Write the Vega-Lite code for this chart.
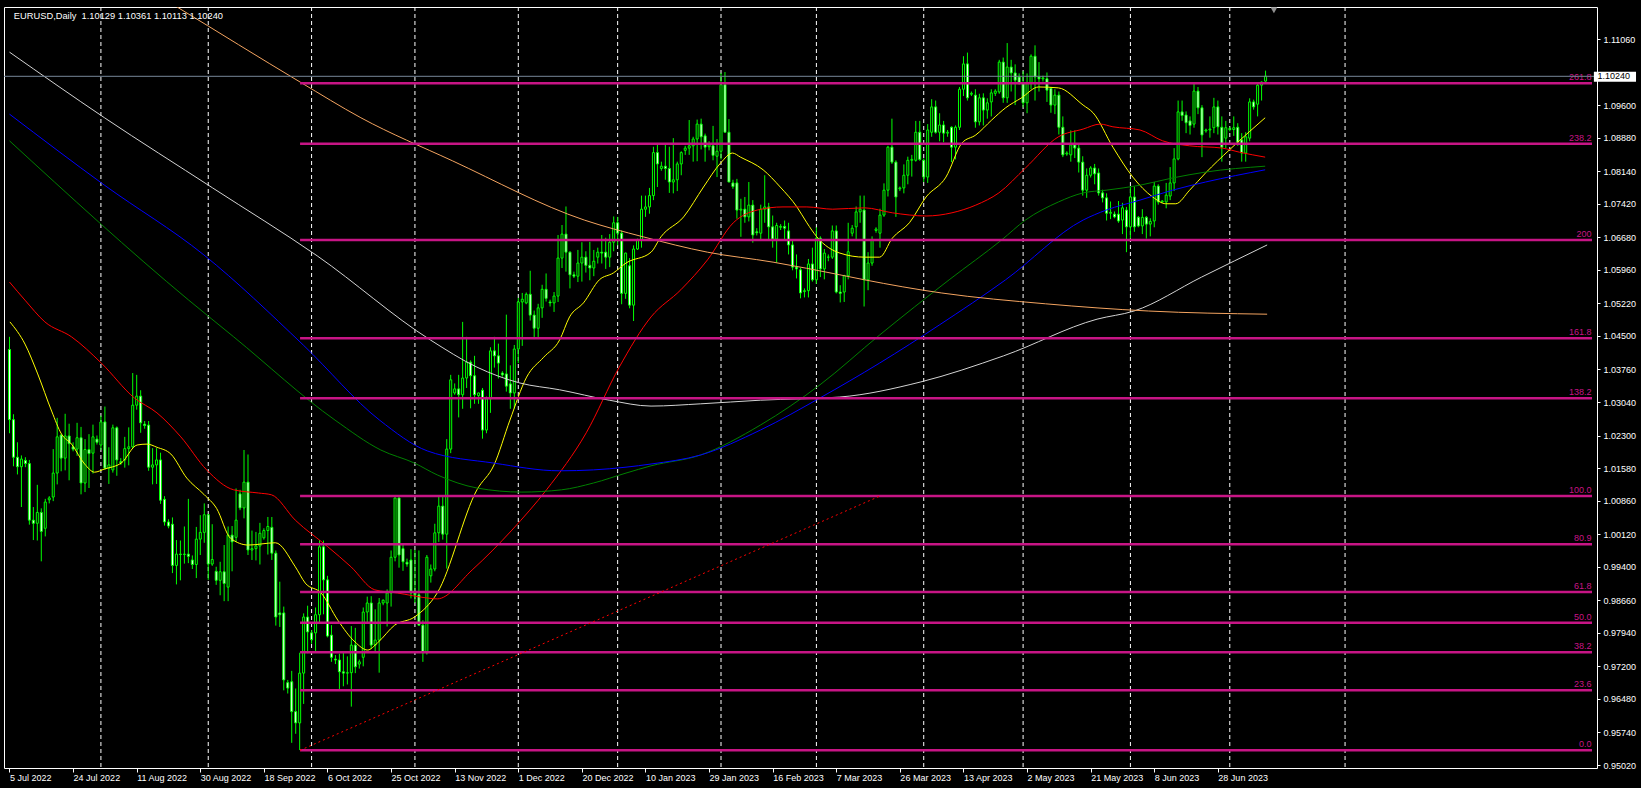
{
"$schema":"https://vega.github.io/schema/vega-lite/v6.json",
"width":1593,"height":761,
"autosize":{"type":"none"},
"padding":{"left":4,"top":7,"right":44,"bottom":20},
"background":"#000000",
"config":{"view":{"stroke":"#FFFFFF","strokeWidth":1,"fill":"#000000"},
"axis":{"labelFont":"Liberation Sans","labelFontSize":9,"labelColor":"#FFFFFF","tickColor":"#FFFFFF","domain":false,"grid":false,"labelOverlap":false,"labelSeparation":0},
"text":{"font":"Liberation Sans"}},
"datasets":{
"one":[{"n":1}],
"sep":[{"i":23},{"i":50},{"i":76},{"i":102},{"i":128},{"i":153},{"i":179},{"i":203},{"i":230},{"i":255},{"i":282},{"i":307},{"i":336}],
"k":[
{"i":0,"o":1.042,"h":1.0448,"l":1.0235,"c":1.0265},{"i":1,"o":1.0265,"h":1.0277,"l":1.0162,"c":1.0182},{"i":2,"o":1.0182,"h":1.0215,"l":1.0144,"c":1.0161},{"i":3,"o":1.0161,"h":1.0186,"l":1.0072,"c":1.0178},{"i":4,"o":1.0175,"h":1.0182,"l":1.016,"c":1.0168},{"i":5,"o":1.0168,"h":1.0176,"l":1.0033,"c":1.0043},{"i":6,"o":1.0043,"h":1.0072,"l":0.9999,"c":1.0036},{"i":7,"o":1.0036,"h":1.0121,"l":0.9998,"c":1.006},{"i":8,"o":1.006,"h":1.0069,"l":0.9952,"c":1.0018},{"i":9,"o":1.0025,"h":1.009,"l":1.0007,"c":1.0083},
{"i":10,"o":1.0088,"h":1.0096,"l":1.008,"c":1.0092},{"i":11,"o":1.0094,"h":1.02,"l":1.0085,"c":1.0147},{"i":12,"o":1.0147,"h":1.0269,"l":1.0122,"c":1.0227},{"i":13,"o":1.0231,"h":1.0233,"l":1.0151,"c":1.018},{"i":14,"o":1.018,"h":1.0278,"l":1.0153,"c":1.0229},{"i":15,"o":1.0229,"h":1.0256,"l":1.0131,"c":1.0212},{"i":16,"o":1.0205,"h":1.0215,"l":1.0195,"c":1.02},{"i":17,"o":1.02,"h":1.0258,"l":1.0185,"c":1.0225},{"i":18,"o":1.0225,"h":1.0249,"l":1.01,"c":1.0125},{"i":19,"o":1.0125,"h":1.0222,"l":1.0105,"c":1.0199},
{"i":20,"o":1.0199,"h":1.0233,"l":1.0114,"c":1.019},{"i":21,"o":1.0191,"h":1.0254,"l":1.0146,"c":1.0227},{"i":22,"o":1.0222,"h":1.023,"l":1.021,"c":1.0215},{"i":23,"o":1.0209,"h":1.0274,"l":1.0198,"c":1.026},{"i":24,"o":1.026,"h":1.0294,"l":1.0154,"c":1.0158},{"i":25,"o":1.0158,"h":1.0204,"l":1.0123,"c":1.0165},{"i":26,"o":1.0154,"h":1.0254,"l":1.0148,"c":1.0247},{"i":27,"o":1.0247,"h":1.025,"l":1.0141,"c":1.0176},{"i":28,"o":1.0172,"h":1.018,"l":1.0165,"c":1.017},{"i":29,"o":1.0176,"h":1.0227,"l":1.0159,"c":1.0201},
{"i":30,"o":1.0201,"h":1.0248,"l":1.0164,"c":1.0205},{"i":31,"o":1.0205,"h":1.0368,"l":1.0202,"c":1.0297},{"i":32,"o":1.0297,"h":1.0364,"l":1.0287,"c":1.0317},{"i":33,"o":1.0317,"h":1.033,"l":1.0236,"c":1.0258},{"i":34,"o":1.0255,"h":1.0262,"l":1.0245,"c":1.0252},{"i":35,"o":1.0253,"h":1.0262,"l":1.0152,"c":1.016},{"i":36,"o":1.016,"h":1.0202,"l":1.0122,"c":1.0165},{"i":37,"o":1.0165,"h":1.0202,"l":1.0123,"c":1.0176},{"i":38,"o":1.0176,"h":1.0192,"l":1.0079,"c":1.0087},{"i":39,"o":1.0089,"h":1.0096,"l":1.0031,"c":1.0039},
{"i":40,"o":1.0039,"h":1.0045,"l":1.0025,"c":1.003},{"i":41,"o":1.0034,"h":1.0049,"l":0.9926,"c":0.9943},{"i":42,"o":0.9943,"h":0.9999,"l":0.9901,"c":0.9968},{"i":43,"o":0.9968,"h":0.9998,"l":0.991,"c":0.9967},{"i":44,"o":0.9967,"h":1.0029,"l":0.9947,"c":0.9968},{"i":45,"o":0.9968,"h":1.009,"l":0.9948,"c":0.9963},{"i":46,"o":0.9955,"h":0.9965,"l":0.9935,"c":0.9945},{"i":47,"o":0.9945,"h":1.0028,"l":0.9915,"c":1.0001},{"i":48,"o":1.0001,"h":1.0054,"l":0.9966,"c":1.0016},{"i":49,"o":1.0016,"h":1.008,"l":0.9993,"c":1.0055},
{"i":50,"o":1.0055,"h":1.0056,"l":0.9911,"c":0.9946},{"i":51,"o":0.9946,"h":1.0034,"l":0.9942,"c":0.9956},{"i":52,"o":0.993,"h":0.994,"l":0.99,"c":0.991},{"i":53,"o":0.991,"h":0.9951,"l":0.9877,"c":0.9929},{"i":54,"o":0.9929,"h":0.9988,"l":0.9864,"c":0.9903},{"i":55,"o":0.9895,"h":1.0029,"l":0.9864,"c":1.001},{"i":56,"o":1.001,"h":1.003,"l":0.993,"c":0.9995},{"i":57,"o":1.0005,"h":1.0113,"l":0.9995,"c":1.0043},{"i":58,"o":1.0101,"h":1.011,"l":1.0065,"c":1.007},{"i":59,"o":1.007,"h":1.0198,"l":1.0047,"c":1.0127},
{"i":60,"o":1.0127,"h":1.0188,"l":0.9966,"c":0.9977},{"i":61,"o":0.9977,"h":1.002,"l":0.9955,"c":0.998},{"i":62,"o":0.998,"h":1.0017,"l":0.9954,"c":0.9986},{"i":63,"o":0.9986,"h":1.0037,"l":0.9945,"c":1.0014},{"i":64,"o":1.0004,"h":1.0025,"l":1.0,"c":1.002},{"i":65,"o":1.002,"h":1.005,"l":0.9967,"c":1.0029},{"i":66,"o":1.0027,"h":1.005,"l":0.9955,"c":0.997},{"i":67,"o":0.997,"h":0.9976,"l":0.981,"c":0.9829},{"i":68,"o":0.9838,"h":0.9907,"l":0.9807,"c":0.9834},{"i":69,"o":0.9838,"h":0.9852,"l":0.9667,"c":0.969},
{"i":70,"o":0.9684,"h":0.969,"l":0.966,"c":0.9672},{"i":71,"o":0.9686,"h":0.971,"l":0.9551,"c":0.962},{"i":72,"o":0.962,"h":0.9671,"l":0.9571,"c":0.9595},{"i":73,"o":0.9595,"h":0.975,"l":0.9535,"c":0.9705},{"i":74,"o":0.9705,"h":0.9837,"l":0.9637,"c":0.9829},{"i":75,"o":0.9829,"h":0.9854,"l":0.9749,"c":0.9796},{"i":76,"o":0.9794,"h":0.98,"l":0.977,"c":0.9779},{"i":77,"o":0.9794,"h":0.985,"l":0.9752,"c":0.9834},{"i":78,"o":0.9834,"h":0.9999,"l":0.9816,"c":0.9984},{"i":79,"o":0.9984,"h":0.9998,"l":0.9835,"c":0.9911},
{"i":80,"o":0.9911,"h":0.992,"l":0.9784,"c":0.9787},{"i":81,"o":0.9789,"h":0.9811,"l":0.973,"c":0.974},{"i":82,"o":0.9736,"h":0.9745,"l":0.9725,"c":0.9734},{"i":83,"o":0.9734,"h":0.9748,"l":0.967,"c":0.9708},{"i":84,"o":0.9708,"h":0.9752,"l":0.9676,"c":0.9705},{"i":85,"o":0.9705,"h":0.9742,"l":0.968,"c":0.9706},{"i":86,"o":0.9706,"h":0.9809,"l":0.9631,"c":0.9767},{"i":87,"o":0.9767,"h":0.9805,"l":0.9705,"c":0.9719},{"i":88,"o":0.9725,"h":0.9735,"l":0.9715,"c":0.973},{"i":89,"o":0.974,"h":0.985,"l":0.972,"c":0.984},
{"i":90,"o":0.984,"h":0.9874,"l":0.9815,"c":0.986},{"i":91,"o":0.986,"h":0.9875,"l":0.9758,"c":0.9767},{"i":92,"o":0.9767,"h":0.9846,"l":0.9752,"c":0.9778},{"i":93,"o":0.9778,"h":0.9871,"l":0.9706,"c":0.986},{"i":94,"o":0.986,"h":0.9868,"l":0.9855,"c":0.9866},{"i":95,"o":0.986,"h":0.989,"l":0.9808,"c":0.9882},{"i":96,"o":0.9882,"h":0.9976,"l":0.9852,"c":0.9961},{"i":97,"o":0.9961,"h":1.0093,"l":0.9952,"c":1.0092},{"i":98,"o":1.0092,"h":1.0093,"l":0.9938,"c":0.9966},{"i":99,"o":0.998,"h":0.999,"l":0.9931,"c":0.9951},
{"i":100,"o":0.995,"h":0.9958,"l":0.994,"c":0.9946},{"i":101,"o":0.9955,"h":0.9979,"l":0.987,"c":0.9882},{"i":102,"o":0.9882,"h":0.9977,"l":0.986,"c":0.9878},{"i":103,"o":0.9878,"h":0.9976,"l":0.981,"c":0.9811},{"i":104,"o":0.9811,"h":0.9822,"l":0.973,"c":0.975},{"i":105,"o":0.975,"h":0.9966,"l":0.9746,"c":0.9961},{"i":106,"o":0.992,"h":0.9945,"l":0.9905,"c":0.9935},{"i":107,"o":0.9935,"h":1.0035,"l":0.993,"c":1.0015},{"i":108,"o":1.0015,"h":1.0096,"l":0.9995,"c":1.0074},{"i":109,"o":1.0074,"h":1.0094,"l":1.0,"c":1.0012},
{"i":110,"o":1.0012,"h":1.0222,"l":0.9936,"c":1.02},{"i":111,"o":1.02,"h":1.0364,"l":1.0191,"c":1.0353},{"i":112,"o":1.0324,"h":1.0345,"l":1.032,"c":1.0333},{"i":113,"o":1.0333,"h":1.0364,"l":1.027,"c":1.032},{"i":114,"o":1.032,"h":1.0481,"l":1.0289,"c":1.0357},{"i":115,"o":1.0357,"h":1.0448,"l":1.0335,"c":1.0392},{"i":116,"o":1.0392,"h":1.0396,"l":1.029,"c":1.0362},{"i":117,"o":1.0362,"h":1.0406,"l":1.03,"c":1.032},{"i":118,"o":1.0318,"h":1.0325,"l":1.03,"c":1.0324},{"i":119,"o":1.033,"h":1.0335,"l":1.0223,"c":1.0242},
{"i":120,"o":1.0242,"h":1.0316,"l":1.0235,"c":1.0311},{"i":121,"o":1.0311,"h":1.0425,"l":1.028,"c":1.0417},{"i":122,"o":1.0417,"h":1.0448,"l":1.038,"c":1.0406},{"i":123,"o":1.0406,"h":1.0433,"l":1.0356,"c":1.039},{"i":124,"o":1.0368,"h":1.0372,"l":1.036,"c":1.0364},{"i":125,"o":1.0366,"h":1.0497,"l":1.0327,"c":1.0339},{"i":126,"o":1.0344,"h":1.0385,"l":1.0289,"c":1.0324},{"i":127,"o":1.0324,"h":1.043,"l":1.0289,"c":1.0421},{"i":128,"o":1.0421,"h":1.0534,"l":1.039,"c":1.0525},{"i":129,"o":1.0525,"h":1.0545,"l":1.0428,"c":1.0531},
{"i":130,"o":1.0523,"h":1.0546,"l":1.052,"c":1.0542},{"i":131,"o":1.0542,"h":1.0594,"l":1.0484,"c":1.0496},{"i":132,"o":1.0496,"h":1.0506,"l":1.0443,"c":1.0467},{"i":133,"o":1.0467,"h":1.0521,"l":1.0444,"c":1.0512},{"i":134,"o":1.0512,"h":1.0563,"l":1.049,"c":1.0553},{"i":135,"o":1.0553,"h":1.0588,"l":1.0526,"c":1.0533},{"i":136,"o":1.0525,"h":1.053,"l":1.0515,"c":1.0523},{"i":137,"o":1.0523,"h":1.0547,"l":1.0503,"c":1.0538},{"i":138,"o":1.0538,"h":1.0673,"l":1.0525,"c":1.0622},{"i":139,"o":1.0622,"h":1.0695,"l":1.06,"c":1.0675},
{"i":140,"o":1.0675,"h":1.0736,"l":1.0592,"c":1.0635},{"i":141,"o":1.0635,"h":1.0637,"l":1.0555,"c":1.0585},{"i":142,"o":1.0585,"h":1.0592,"l":1.0578,"c":1.0582},{"i":143,"o":1.0582,"h":1.064,"l":1.0569,"c":1.0611},{"i":144,"o":1.0611,"h":1.0657,"l":1.057,"c":1.0624},{"i":145,"o":1.0624,"h":1.0637,"l":1.059,"c":1.0606},{"i":146,"o":1.0606,"h":1.0658,"l":1.0573,"c":1.06},{"i":147,"o":1.06,"h":1.064,"l":1.0582,"c":1.0615},{"i":148,"o":1.0624,"h":1.0645,"l":1.061,"c":1.0635},{"i":149,"o":1.0635,"h":1.0673,"l":1.061,"c":1.0633},
{"i":150,"o":1.0635,"h":1.0667,"l":1.0598,"c":1.0624},{"i":151,"o":1.0624,"h":1.0675,"l":1.0602,"c":1.0657},{"i":152,"o":1.0657,"h":1.0714,"l":1.0637,"c":1.07},{"i":153,"o":1.07,"h":1.0713,"l":1.065,"c":1.0677},{"i":154,"o":1.0677,"h":1.0683,"l":1.052,"c":1.0544},{"i":155,"o":1.0544,"h":1.0634,"l":1.0532,"c":1.0633},{"i":156,"o":1.0605,"h":1.0622,"l":1.0511,"c":1.0518},{"i":157,"o":1.0518,"h":1.065,"l":1.0483,"c":1.0642},{"i":158,"o":1.0642,"h":1.0665,"l":1.064,"c":1.0662},{"i":159,"o":1.0662,"h":1.076,"l":1.0645,"c":1.073},
{"i":160,"o":1.073,"h":1.076,"l":1.0713,"c":1.0735},{"i":161,"o":1.0735,"h":1.0777,"l":1.072,"c":1.076},{"i":162,"o":1.076,"h":1.0868,"l":1.075,"c":1.0855},{"i":163,"o":1.0855,"h":1.0874,"l":1.0779,"c":1.083},{"i":164,"o":1.082,"h":1.0835,"l":1.0815,"c":1.0825},{"i":165,"o":1.0825,"h":1.0874,"l":1.0795,"c":1.082},{"i":166,"o":1.082,"h":1.0868,"l":1.0766,"c":1.079},{"i":167,"o":1.079,"h":1.0887,"l":1.0765,"c":1.0795},{"i":168,"o":1.0795,"h":1.0835,"l":1.077,"c":1.083},{"i":169,"o":1.083,"h":1.0858,"l":1.0805,"c":1.0855},
{"i":170,"o":1.086,"h":1.087,"l":1.085,"c":1.0865},{"i":171,"o":1.0865,"h":1.0927,"l":1.085,"c":1.087},{"i":172,"o":1.087,"h":1.089,"l":1.0835,"c":1.0885},{"i":173,"o":1.0885,"h":1.0928,"l":1.0836,"c":1.0918},{"i":174,"o":1.0918,"h":1.093,"l":1.0862,"c":1.089},{"i":175,"o":1.0892,"h":1.0897,"l":1.0835,"c":1.0867},{"i":176,"o":1.0868,"h":1.088,"l":1.086,"c":1.0872},{"i":177,"o":1.087,"h":1.0914,"l":1.0838,"c":1.0849},{"i":178,"o":1.0847,"h":1.0885,"l":1.0801,"c":1.0858},{"i":179,"o":1.0858,"h":1.1031,"l":1.084,"c":1.1005},
{"i":180,"o":1.1005,"h":1.1033,"l":1.09,"c":1.09},{"i":181,"o":1.09,"h":1.0929,"l":1.079,"c":1.079},{"i":182,"o":1.0788,"h":1.0795,"l":1.0775,"c":1.078},{"i":183,"o":1.0788,"h":1.0797,"l":1.0709,"c":1.0728},{"i":184,"o":1.0728,"h":1.0753,"l":1.0669,"c":1.073},{"i":185,"o":1.073,"h":1.0757,"l":1.07,"c":1.0713},{"i":186,"o":1.0713,"h":1.079,"l":1.0703,"c":1.0739},{"i":187,"o":1.0739,"h":1.075,"l":1.0656,"c":1.0673},{"i":188,"o":1.068,"h":1.0688,"l":1.0672,"c":1.0678},{"i":189,"o":1.0677,"h":1.074,"l":1.066,"c":1.073},
{"i":190,"o":1.073,"h":1.0805,"l":1.07,"c":1.0735},{"i":191,"o":1.0735,"h":1.0744,"l":1.066,"c":1.0691},{"i":192,"o":1.0691,"h":1.0716,"l":1.0645,"c":1.0664},{"i":193,"o":1.0664,"h":1.07,"l":1.0612,"c":1.0694},{"i":194,"o":1.069,"h":1.0697,"l":1.0684,"c":1.0692},{"i":195,"o":1.0692,"h":1.0705,"l":1.066,"c":1.0688},{"i":196,"o":1.0682,"h":1.07,"l":1.063,"c":1.0651},{"i":197,"o":1.0651,"h":1.066,"l":1.0595,"c":1.0602},{"i":198,"o":1.0602,"h":1.063,"l":1.0577,"c":1.0598},{"i":199,"o":1.0596,"h":1.06,"l":1.0533,"c":1.0545},
{"i":200,"o":1.0548,"h":1.0555,"l":1.0535,"c":1.055},{"i":201,"o":1.055,"h":1.062,"l":1.0535,"c":1.0609},{"i":202,"o":1.0609,"h":1.0645,"l":1.057,"c":1.0574},{"i":203,"o":1.0574,"h":1.069,"l":1.0565,"c":1.0666},{"i":204,"o":1.0666,"h":1.067,"l":1.058,"c":1.0598},{"i":205,"o":1.0598,"h":1.0642,"l":1.0575,"c":1.0633},{"i":206,"o":1.0624,"h":1.063,"l":1.0615,"c":1.0624},{"i":207,"o":1.0624,"h":1.0694,"l":1.062,"c":1.0682},{"i":208,"o":1.0682,"h":1.0694,"l":1.0544,"c":1.0547},{"i":209,"o":1.0547,"h":1.0562,"l":1.0524,"c":1.0544},
{"i":210,"o":1.0547,"h":1.0585,"l":1.0525,"c":1.0583},{"i":211,"o":1.0583,"h":1.07,"l":1.0575,"c":1.0636},{"i":212,"o":1.0677,"h":1.0695,"l":1.067,"c":1.0688},{"i":213,"o":1.0691,"h":1.0736,"l":1.066,"c":1.0724},{"i":214,"o":1.0724,"h":1.076,"l":1.07,"c":1.073},{"i":215,"o":1.0728,"h":1.076,"l":1.0515,"c":1.0574},{"i":216,"o":1.0574,"h":1.0635,"l":1.0551,"c":1.0611},{"i":217,"o":1.0611,"h":1.067,"l":1.0605,"c":1.0662},{"i":218,"o":1.0683,"h":1.069,"l":1.0678,"c":1.0686},{"i":219,"o":1.0677,"h":1.0731,"l":1.0645,"c":1.0717},
{"i":220,"o":1.0717,"h":1.0787,"l":1.0713,"c":1.0772},{"i":221,"o":1.0772,"h":1.087,"l":1.0758,"c":1.0867},{"i":222,"o":1.0867,"h":1.093,"l":1.083,"c":1.0834},{"i":223,"o":1.0834,"h":1.0838,"l":1.0713,"c":1.0757},{"i":224,"o":1.0775,"h":1.078,"l":1.077,"c":1.0777},{"i":225,"o":1.0777,"h":1.0829,"l":1.0765,"c":1.0805},{"i":226,"o":1.0805,"h":1.0846,"l":1.0785,"c":1.0838},{"i":227,"o":1.0838,"h":1.085,"l":1.0802,"c":1.084},{"i":228,"o":1.0838,"h":1.0925,"l":1.0835,"c":1.09},{"i":229,"o":1.09,"h":1.0925,"l":1.0837,"c":1.084},
{"i":230,"o":1.0838,"h":1.0842,"l":1.079,"c":1.0801},{"i":231,"o":1.0801,"h":1.0918,"l":1.0788,"c":1.0905},{"i":232,"o":1.09,"h":1.0973,"l":1.089,"c":1.0956},{"i":233,"o":1.0956,"h":1.097,"l":1.0897,"c":1.09},{"i":234,"o":1.09,"h":1.0942,"l":1.088,"c":1.0916},{"i":235,"o":1.0916,"h":1.0925,"l":1.0878,"c":1.0898},{"i":236,"o":1.0898,"h":1.0905,"l":1.089,"c":1.09},{"i":237,"o":1.0911,"h":1.0913,"l":1.0834,"c":1.0867},{"i":238,"o":1.0867,"h":1.0915,"l":1.084,"c":1.0911},{"i":239,"o":1.0911,"h":1.1,"l":1.0905,"c":1.0995},
{"i":240,"o":1.0995,"h":1.1068,"l":1.098,"c":1.1051},{"i":241,"o":1.1051,"h":1.1076,"l":1.097,"c":1.0976},{"i":242,"o":1.0984,"h":1.099,"l":1.098,"c":1.0986},{"i":243,"o":1.0982,"h":1.0995,"l":1.091,"c":1.0923},{"i":244,"o":1.0923,"h":1.0985,"l":1.0915,"c":1.0976},{"i":245,"o":1.0976,"h":1.0986,"l":1.0915,"c":1.0949},{"i":246,"o":1.0949,"h":1.0975,"l":1.093,"c":1.0965},{"i":247,"o":1.0967,"h":1.0995,"l":1.0935,"c":1.0987},{"i":248,"o":1.0986,"h":1.0995,"l":1.098,"c":1.0991},{"i":249,"o":1.0989,"h":1.106,"l":1.0985,"c":1.1055},
{"i":250,"o":1.1055,"h":1.1065,"l":1.0965,"c":1.0976},{"i":251,"o":1.0976,"h":1.1097,"l":1.0965,"c":1.1044},{"i":252,"o":1.1044,"h":1.106,"l":1.099,"c":1.1031},{"i":253,"o":1.1031,"h":1.105,"l":1.096,"c":1.1015},{"i":254,"o":1.1022,"h":1.103,"l":1.1005,"c":1.1009},{"i":255,"o":1.1009,"h":1.1035,"l":1.0955,"c":1.0965},{"i":256,"o":1.0965,"h":1.103,"l":1.0942,"c":1.1009},{"i":257,"o":1.1009,"h":1.1072,"l":1.0995,"c":1.1068},{"i":258,"o":1.1068,"h":1.1092,"l":1.097,"c":1.1022},{"i":259,"o":1.1022,"h":1.1055,"l":1.099,"c":1.1018},
{"i":260,"o":1.1018,"h":1.1025,"l":1.1012,"c":1.102},{"i":261,"o":1.1018,"h":1.1032,"l":1.0967,"c":1.0993},{"i":262,"o":1.0997,"h":1.1,"l":1.0943,"c":1.096},{"i":263,"o":1.096,"h":1.0995,"l":1.094,"c":1.0982},{"i":264,"o":1.0982,"h":1.099,"l":1.0895,"c":1.0911},{"i":265,"o":1.0911,"h":1.0935,"l":1.0845,"c":1.085},{"i":266,"o":1.0852,"h":1.0858,"l":1.0848,"c":1.0854},{"i":267,"o":1.085,"h":1.0904,"l":1.0835,"c":1.0872},{"i":268,"o":1.0872,"h":1.0904,"l":1.0843,"c":1.0865},{"i":269,"o":1.0865,"h":1.0876,"l":1.0811,"c":1.0834},
{"i":270,"o":1.0834,"h":1.0847,"l":1.076,"c":1.0772},{"i":271,"o":1.0772,"h":1.082,"l":1.0755,"c":1.0805},{"i":272,"o":1.0805,"h":1.0825,"l":1.08,"c":1.0821},{"i":273,"o":1.0821,"h":1.083,"l":1.0785,"c":1.0808},{"i":274,"o":1.081,"h":1.082,"l":1.076,"c":1.0766},{"i":275,"o":1.0766,"h":1.0773,"l":1.0745,"c":1.0755},{"i":276,"o":1.0755,"h":1.0765,"l":1.0705,"c":1.0721},{"i":277,"o":1.0721,"h":1.0747,"l":1.0708,"c":1.0723},{"i":278,"o":1.0719,"h":1.0725,"l":1.071,"c":1.0713},{"i":279,"o":1.0719,"h":1.0748,"l":1.07,"c":1.0704},
{"i":280,"o":1.0706,"h":1.0744,"l":1.0675,"c":1.0733},{"i":281,"o":1.0728,"h":1.0735,"l":1.0635,"c":1.0691},{"i":282,"o":1.0691,"h":1.078,"l":1.0665,"c":1.0757},{"i":283,"o":1.0757,"h":1.078,"l":1.068,"c":1.0691},{"i":284,"o":1.0712,"h":1.0715,"l":1.069,"c":1.0693},{"i":285,"o":1.0693,"h":1.073,"l":1.0675,"c":1.0712},{"i":286,"o":1.0712,"h":1.0715,"l":1.0665,"c":1.0697},{"i":287,"o":1.0697,"h":1.071,"l":1.067,"c":1.0703},{"i":288,"o":1.0704,"h":1.079,"l":1.069,"c":1.0781},{"i":289,"o":1.0781,"h":1.0785,"l":1.074,"c":1.0746},
{"i":290,"o":1.0746,"h":1.075,"l":1.0744,"c":1.0748},{"i":291,"o":1.0746,"h":1.0788,"l":1.0732,"c":1.0761},{"i":292,"o":1.0759,"h":1.0823,"l":1.075,"c":1.0788},{"i":293,"o":1.0788,"h":1.0865,"l":1.077,"c":1.0841},{"i":294,"o":1.0841,"h":1.097,"l":1.0838,"c":1.0945},{"i":295,"o":1.0945,"h":1.097,"l":1.0925,"c":1.0937},{"i":296,"o":1.0938,"h":1.0946,"l":1.0898,"c":1.0921},{"i":297,"o":1.0925,"h":1.0935,"l":1.0895,"c":1.0915},{"i":298,"o":1.0918,"h":1.1011,"l":1.091,"c":1.0991},{"i":299,"o":1.0991,"h":1.1,"l":1.094,"c":1.0954},
{"i":300,"o":1.0954,"h":1.096,"l":1.0845,"c":1.0894},{"i":301,"o":1.0903,"h":1.0908,"l":1.0899,"c":1.0905},{"i":302,"o":1.0905,"h":1.0935,"l":1.0888,"c":1.0907},{"i":303,"o":1.091,"h":1.0976,"l":1.0898,"c":1.0956},{"i":304,"o":1.0956,"h":1.097,"l":1.0895,"c":1.0912},{"i":305,"o":1.0911,"h":1.0935,"l":1.0835,"c":1.0867},{"i":306,"o":1.0887,"h":1.0925,"l":1.0865,"c":1.091},{"i":307,"o":1.0908,"h":1.0912,"l":1.0902,"c":1.0906},{"i":308,"o":1.0906,"h":1.0935,"l":1.0892,"c":1.091},{"i":309,"o":1.0911,"h":1.092,"l":1.087,"c":1.0878},
{"i":310,"o":1.0883,"h":1.0898,"l":1.0835,"c":1.0854},{"i":311,"o":1.0854,"h":1.09,"l":1.0835,"c":1.089},{"i":312,"o":1.0887,"h":1.0975,"l":1.088,"c":1.0967},{"i":313,"o":1.0967,"h":1.0972,"l":1.095,"c":1.0956},{"i":314,"o":1.0962,"h":1.1008,"l":1.0935,"c":1.1004},{"i":315,"o":1.1004,"h":1.1012,"l":1.097,"c":1.1011},{"i":316,"o":1.10129,"h":1.10361,"l":1.10113,"c":1.1024}
],
"ma":[
{"s":"y","i":0.1,"v":1.0481},{"s":"y","i":3.9,"v":1.0432},{"s":"y","i":7.1,"v":1.0366},{"s":"y","i":10.6,"v":1.0284},{"s":"y","i":13.1,"v":1.0233},{"s":"y","i":15.6,"v":1.0211},{"s":"y","i":18.9,"v":1.0167},{"s":"y","i":21.4,"v":1.0149},{"s":"y","i":23.9,"v":1.0156},{"s":"y","i":28.1,"v":1.0169},{"s":"y","i":32.1,"v":1.0209},{"s":"y","i":34.6,"v":1.0211},{"s":"y","i":37.1,"v":1.0204},{"s":"y","i":40.6,"v":1.0189},{"s":"y","i":44.6,"v":1.0136},{"s":"y","i":48.9,"v":1.01},{"s":"y","i":52.1,"v":1.0069},{"s":"y","i":55.6,"v":1.0003},{"s":"y","i":60.1,"v":0.9988},{"s":"y","i":66.9,"v":0.9993},{"s":"y","i":71.9,"v":0.994},{"s":"y","i":74.4,"v":0.9904},{"s":"y","i":78.4,"v":0.9882},{"s":"y","i":82.6,"v":0.9822},{"s":"y","i":86.9,"v":0.9774},{"s":"y","i":90.1,"v":0.9756},{"s":"y","i":92.6,"v":0.9772},{"s":"y","i":96.9,"v":0.9811},{"s":"y","i":101.9,"v":0.9829},{"s":"y","i":107.6,"v":0.9882},{"s":"y","i":117.6,"v":1.011},{"s":"y","i":121.9,"v":1.0165},{"s":"y","i":125.9,"v":1.0264},{"s":"y","i":130.1,"v":1.0359},{"s":"y","i":134.4,"v":1.0403},{"s":"y","i":138.4,"v":1.0441},{"s":"y","i":140.9,"v":1.0492},{"s":"y","i":144.4,"v":1.0523},{"s":"y","i":148.4,"v":1.0574},{"s":"y","i":151.9,"v":1.0589},{"s":"y","i":155.1,"v":1.0611},{"s":"y","i":161.4,"v":1.0635},{"s":"y","i":163.9,"v":1.0669},{"s":"y","i":169.6,"v":1.0713},{"s":"y","i":174.6,"v":1.0779},{"s":"y","i":178.9,"v":1.0832},{"s":"y","i":181.9,"v":1.0854},{"s":"y","i":183.9,"v":1.0845},{"s":"y","i":189.6,"v":1.0817},{"s":"y","i":193.9,"v":1.0779},{"s":"y","i":198.1,"v":1.0735},{"s":"y","i":200.6,"v":1.07},{"s":"y","i":203.1,"v":1.0669},{"s":"y","i":208.9,"v":1.0633},{"s":"y","i":215.1,"v":1.0624},{"s":"y","i":218.9,"v":1.0624},{"s":"y","i":222.1,"v":1.0666},{"s":"y","i":226.4,"v":1.07},{"s":"y","i":230.6,"v":1.0757},{"s":"y","i":235.6,"v":1.0801},{"s":"y","i":239.6,"v":1.0876},{"s":"y","i":243.1,"v":1.0894},{"s":"y","i":247.1,"v":1.0927},{"s":"y","i":250.6,"v":1.0954},{"s":"y","i":254.6,"v":1.0976},{"s":"y","i":258.9,"v":1.1},{"s":"y","i":263.9,"v":1.0998},{"s":"y","i":270.1,"v":1.096},{"s":"y","i":272.6,"v":1.0943},{"s":"y","i":277.6,"v":1.0867},{"s":"y","i":282.6,"v":1.0801},{"s":"y","i":287.6,"v":1.0757},{"s":"y","i":290.9,"v":1.0742},{"s":"y","i":293.4,"v":1.0742},{"s":"y","i":296.9,"v":1.0772},{"s":"y","i":300.9,"v":1.081},{"s":"y","i":306.9,"v":1.0861},{"s":"y","i":311.9,"v":1.0901},{"s":"y","i":315.9,"v":1.0932},
{"s":"r","i":0,"v":1.0569},{"s":"r","i":3.9,"v":1.0529},{"s":"r","i":8.9,"v":1.0481},{"s":"r","i":15.6,"v":1.0448},{"s":"r","i":23.1,"v":1.039},{"s":"r","i":31.4,"v":1.0313},{"s":"r","i":37.1,"v":1.028},{"s":"r","i":43.1,"v":1.0227},{"s":"r","i":49.6,"v":1.0154},{"s":"r","i":56.4,"v":1.011},{"s":"r","i":62.6,"v":1.0103},{"s":"r","i":65.9,"v":1.0099},{"s":"r","i":71.9,"v":1.0043},{"s":"r","i":80.1,"v":0.9984},{"s":"r","i":85.9,"v":0.994},{"s":"r","i":91.9,"v":0.9889},{"s":"r","i":97.6,"v":0.9882},{"s":"r","i":105.1,"v":0.9871},{"s":"r","i":107.6,"v":0.9869},{"s":"r","i":116.4,"v":0.9933},{"s":"r","i":126.4,"v":1.0021},{"s":"r","i":135.1,"v":1.011},{"s":"r","i":145.1,"v":1.0236},{"s":"r","i":153.4,"v":1.0381},{"s":"r","i":161.4,"v":1.0492},{"s":"r","i":168.9,"v":1.0552},{"s":"r","i":175.6,"v":1.0618},{"s":"r","i":182.1,"v":1.07},{"s":"r","i":188.1,"v":1.0728},{"s":"r","i":194.6,"v":1.0735},{"s":"r","i":200.6,"v":1.0735},{"s":"r","i":207.1,"v":1.073},{"s":"r","i":215.1,"v":1.0733},{"s":"r","i":222.1,"v":1.0722},{"s":"r","i":230.6,"v":1.0715},{"s":"r","i":237.1,"v":1.0722},{"s":"r","i":243.1,"v":1.0739},{"s":"r","i":248.9,"v":1.0766},{"s":"r","i":255.6,"v":1.0821},{"s":"r","i":263.9,"v":1.089},{"s":"r","i":270.1,"v":1.0907},{"s":"r","i":274.4,"v":1.0918},{"s":"r","i":277.6,"v":1.0912},{"s":"r","i":284.4,"v":1.0905},{"s":"r","i":290.1,"v":1.0881},{"s":"r","i":296.9,"v":1.087},{"s":"r","i":305.1,"v":1.0865},{"s":"r","i":309.4,"v":1.0856},{"s":"r","i":315.9,"v":1.0845},
{"s":"g","i":0,"v":1.0881},{"s":"g","i":45.1,"v":1.0529},{"s":"g","i":56.4,"v":1.0448},{"s":"g","i":81.9,"v":1.0264},{"s":"g","i":93.4,"v":1.0198},{"s":"g","i":101.9,"v":1.0169},{"s":"g","i":107.6,"v":1.0143},{"s":"g","i":117.6,"v":1.0114},{"s":"g","i":128.9,"v":1.0105},{"s":"g","i":138.9,"v":1.011},{"s":"g","i":146.9,"v":1.0125},{"s":"g","i":155.1,"v":1.0147},{"s":"g","i":161.4,"v":1.0163},{"s":"g","i":173.9,"v":1.0187},{"s":"g","i":188.9,"v":1.0253},{"s":"g","i":203.9,"v":1.0342},{"s":"g","i":218.9,"v":1.0452},{"s":"g","i":236.4,"v":1.0574},{"s":"g","i":249.6,"v":1.0662},{"s":"g","i":255.6,"v":1.0706},{"s":"g","i":263.9,"v":1.0746},{"s":"g","i":270.1,"v":1.0766},{"s":"g","i":275.9,"v":1.0772},{"s":"g","i":284.4,"v":1.0783},{"s":"g","i":292.6,"v":1.0799},{"s":"g","i":300.9,"v":1.0812},{"s":"g","i":315.9,"v":1.0825},
{"s":"b","i":0,"v":1.094},{"s":"b","i":23.9,"v":1.0783},{"s":"b","i":48.9,"v":1.0629},{"s":"b","i":73.9,"v":1.043},{"s":"b","i":93.1,"v":1.0264},{"s":"b","i":105.1,"v":1.0196},{"s":"b","i":121.9,"v":1.0169},{"s":"b","i":138.4,"v":1.0152},{"s":"b","i":146.9,"v":1.0154},{"s":"b","i":155.1,"v":1.016},{"s":"b","i":161.4,"v":1.0167},{"s":"b","i":173.9,"v":1.0187},{"s":"b","i":188.9,"v":1.0242},{"s":"b","i":203.9,"v":1.0313},{"s":"b","i":218.9,"v":1.039},{"s":"b","i":233.9,"v":1.0474},{"s":"b","i":250.6,"v":1.0574},{"s":"b","i":270.1,"v":1.0706},{"s":"b","i":275.9,"v":1.0728},{"s":"b","i":284.4,"v":1.075},{"s":"b","i":292.6,"v":1.0772},{"s":"b","i":300.9,"v":1.079},{"s":"b","i":315.9,"v":1.0817},
{"s":"w","i":0,"v":1.1077},{"s":"w","i":23.9,"v":1.0932},{"s":"w","i":51.1,"v":1.0777},{"s":"w","i":77.4,"v":1.0627},{"s":"w","i":105.9,"v":1.0441},{"s":"w","i":117.6,"v":1.0381},{"s":"w","i":128.4,"v":1.0346},{"s":"w","i":138.4,"v":1.0331},{"s":"w","i":150.9,"v":1.0308},{"s":"w","i":161.4,"v":1.0295},{"s":"w","i":173.9,"v":1.03},{"s":"w","i":188.9,"v":1.0308},{"s":"w","i":208.9,"v":1.0315},{"s":"w","i":229.1,"v":1.0348},{"s":"w","i":250.1,"v":1.0406},{"s":"w","i":273.6,"v":1.0487},{"s":"w","i":282.9,"v":1.0505},{"s":"w","i":299.9,"v":1.058},{"s":"w","i":316.4,"v":1.0651},
{"s":"o","i":0,"v":1.14},{"s":"o","i":42.1,"v":1.1177},{"s":"o","i":73.1,"v":1.1011},{"s":"o","i":88.4,"v":1.0932},{"s":"o","i":111.4,"v":1.0837},{"s":"o","i":144.6,"v":1.0706},{"s":"o","i":159.4,"v":1.0669},{"s":"o","i":175.6,"v":1.0635},{"s":"o","i":192.1,"v":1.0613},{"s":"o","i":208.9,"v":1.0585},{"s":"o","i":215.1,"v":1.0574},{"s":"o","i":234.4,"v":1.0545},{"s":"o","i":260.6,"v":1.0521},{"s":"o","i":286.6,"v":1.0505},{"s":"o","i":316.4,"v":1.0498}
],
"fib":[{"lv":"0.0","p":0.95345},{"lv":"23.6","p":0.96671},{"lv":"38.2","p":0.9751},{"lv":"50.0","p":0.98165},{"lv":"61.8","p":0.98842},{"lv":"80.9","p":0.99896},{"lv":"100.0","p":1.00963},{"lv":"138.2","p":1.03122},{"lv":"161.8","p":1.04448},{"lv":"200","p":1.06619},{"lv":"238.2","p":1.08747},{"lv":"261.8","p":1.10081}],
"trend":[{"i":73.1,"p":0.95345},{"i":219,"p":1.00963}]
},
"layer":[
{"data":{"name":"sep"},"mark":{"type":"rule","color":"#FFFFFF","strokeWidth":1,"strokeDash":[4,3]},
 "encoding":{"x":{"field":"i","type":"quantitative","scale":{"domain":[-0.125,398.125],"nice":false,"zero":false},
  "axis":{"values":[0,16,32,48,64,80,96,112,128,144,160,176,192,208,224,240,256,272,288,304],"tickCount":60,
   "labelExpr":"['5 Jul 2022','24 Jul 2022','11 Aug 2022','30 Aug 2022','18 Sep 2022','6 Oct 2022','25 Oct 2022','13 Nov 2022','1 Dec 2022','20 Dec 2022','10 Jan 2023','29 Jan 2023','16 Feb 2023','7 Mar 2023','26 Mar 2023','13 Apr 2023','2 May 2023','21 May 2023','8 Jun 2023','28 Jun 2023'][round(datum.value/16)]",
   "labelAlign":"left","labelDx":1,"labelBaseline":"top","tickSize":4,"labelPadding":1,"labelFlush":false,"labelOverlap":false,"labelBound":false,"title":null}}}},
{"data":{"name":"k"},"mark":{"type":"rule","color":"#00FF00","strokeWidth":1},
 "encoding":{"x":{"field":"i","type":"quantitative","scale":{"domain":[-0.125,398.125],"nice":false,"zero":false},"title":null},
  "y":{"field":"l","type":"quantitative","scale":{"domain":[0.94954,1.11767],"nice":false,"zero":false},
   "axis":{"orient":"right","values":[0.9502,0.9574,0.9648,0.972,0.9794,0.9866,0.994,1.0012,1.0086,1.0158,1.023,1.0304,1.0376,1.045,1.0522,1.0596,1.0668,1.0742,1.0814,1.0888,1.096,1.1106],"tickCount":60,
    "format":".5f","tickSize":3,"labelPadding":3,"labelBaseline":"middle","labelFlush":false,"labelOverlap":false,"labelBound":false,"labelSeparation":0,"title":null}},
  "y2":{"field":"h"}}},
{"data":{"name":"k"},"mark":{"type":"bar","width":2,"stroke":"#00FF00","strokeWidth":1},
 "encoding":{"x":{"field":"i","type":"quantitative","scale":{"domain":[-0.125,398.125],"nice":false,"zero":false},"title":null},
  "y":{"field":"o","type":"quantitative","scale":{"domain":[0.94954,1.11767],"nice":false,"zero":false},"title":null},
  "y2":{"field":"c"},
  "fill":{"condition":{"test":"datum.c < datum.o","value":"#FFFFFF"},"value":"#000000"}}},
{"data":{"name":"ma"},"mark":{"type":"line","strokeWidth":1,"clip":true,"interpolate":"monotone"},
 "encoding":{"x":{"field":"i","type":"quantitative","scale":{"domain":[-0.125,398.125],"nice":false,"zero":false},"title":null},
  "y":{"field":"v","type":"quantitative","scale":{"domain":[0.94954,1.11767],"nice":false,"zero":false},"title":null},
  "color":{"field":"s","type":"nominal","scale":{"domain":["y","r","g","b","w","o"],"range":["#FFFF00","#FF0000","#008000","#0000FF","#D3D3D3","#F4A460"]},"legend":null}}},
{"data":{"name":"fib"},"mark":{"type":"rule","color":"#C71585","strokeWidth":2.5},
 "encoding":{"x":{"datum":73.1,"type":"quantitative","scale":{"domain":[-0.125,398.125],"nice":false,"zero":false},"title":null},
  "x2":{"datum":398.125},
  "y":{"field":"p","type":"quantitative","scale":{"domain":[0.94954,1.11767],"nice":false,"zero":false},"title":null}}},
{"data":{"name":"fib"},"mark":{"type":"text","color":"#C71585","fontSize":9,"align":"right","baseline":"bottom","dy":-1},
 "encoding":{"x":{"datum":398.0,"type":"quantitative","scale":{"domain":[-0.125,398.125],"nice":false,"zero":false},"title":null},
  "y":{"field":"p","type":"quantitative","scale":{"domain":[0.94954,1.11767],"nice":false,"zero":false},"title":null},
  "text":{"field":"lv"}}},
{"data":{"name":"trend"},"mark":{"type":"line","color":"#FF0000","strokeWidth":1,"strokeDash":[2,3]},
 "encoding":{"x":{"field":"i","type":"quantitative","scale":{"domain":[-0.125,398.125],"nice":false,"zero":false},"title":null},
  "y":{"field":"p","type":"quantitative","scale":{"domain":[0.94954,1.11767],"nice":false,"zero":false},"title":null}}},
{"data":{"name":"one"},"mark":{"type":"rule","color":"#778899","strokeWidth":1},
 "encoding":{"y":{"datum":1.10236,"type":"quantitative","scale":{"domain":[0.94954,1.11767],"nice":false,"zero":false},"title":null}}},
{"data":{"name":"one"},"mark":{"type":"point","shape":"triangle-down","filled":true,"color":"#909090","size":45,"opacity":1},
 "encoding":{"x":{"datum":318.1,"type":"quantitative","scale":{"domain":[-0.125,398.125],"nice":false,"zero":false},"title":null},
  "y":{"datum":1.11695,"type":"quantitative","scale":{"domain":[0.94954,1.11767],"nice":false,"zero":false},"title":null}}},
{"data":{"name":"one"},"mark":{"type":"rect","color":"#FFFFFF"},
 "encoding":{"x":{"datum":398.6,"type":"quantitative","scale":{"domain":[-0.125,398.125],"nice":false,"zero":false},"title":null},
  "x2":{"datum":409.2},
  "y":{"datum":1.10338,"type":"quantitative","scale":{"domain":[0.94954,1.11767],"nice":false,"zero":false},"title":null},
  "y2":{"datum":1.10117}}},
{"data":{"name":"one"},"mark":{"type":"text","color":"#000000","fontSize":9,"align":"left","baseline":"middle"},
 "encoding":{"x":{"datum":399.5,"type":"quantitative","scale":{"domain":[-0.125,398.125],"nice":false,"zero":false},"title":null},
  "y":{"datum":1.10236,"type":"quantitative","scale":{"domain":[0.94954,1.11767],"nice":false,"zero":false},"title":null},
  "text":{"value":"1.10240"}}},
{"data":{"name":"one"},"mark":{"type":"text","color":"#FFFFFF","fontSize":9.3,"align":"left","baseline":"middle"},
 "encoding":{"x":{"datum":1.1,"type":"quantitative","scale":{"domain":[-0.125,398.125],"nice":false,"zero":false},"title":null},
  "y":{"datum":1.11579,"type":"quantitative","scale":{"domain":[0.94954,1.11767],"nice":false,"zero":false},"title":null},
  "text":{"value":"EURUSD,Daily\u00a0 1.10129 1.10361 1.10113 1.10240"}}}
]
}
